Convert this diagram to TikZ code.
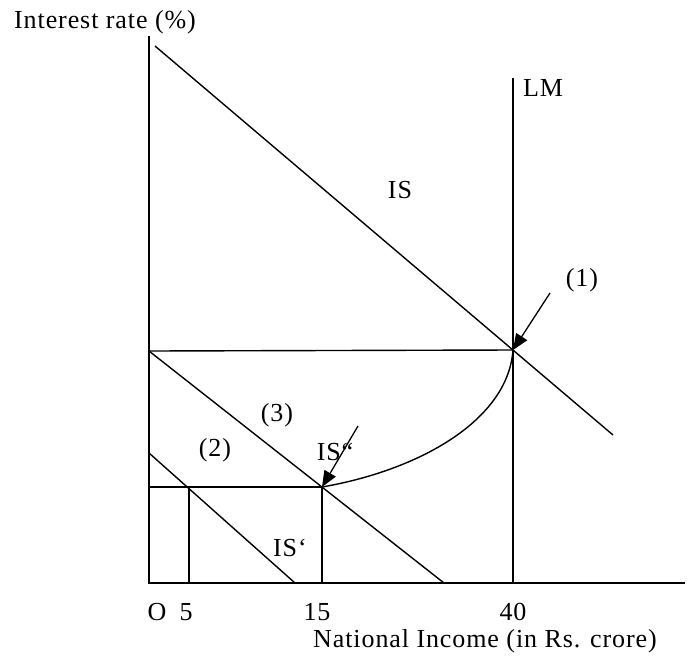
\documentclass[tikz,border=0pt]{standalone}
\usepackage{fontspec}
\setmainfont[LetterSpace=3.5]{Liberation Serif}
\usetikzlibrary{arrows.meta}
\begin{document}
\begin{tikzpicture}[x=1pt,y=-1pt,
  ln/.style={line width=1.4pt,black},
  arr/.style={line width=1.3pt,-{Triangle[length=16pt,width=13pt]}},
  lbl/.style={font=\fontsize{26}{29}\selectfont,inner sep=0pt}]
\useasboundingbox (0,0) rectangle (688,662);
% coordinates
\coordinate (ytop) at (149,36);
\coordinate (O) at (149,583);
\coordinate (xend) at (685,583);
\coordinate (isA) at (155,46);
\coordinate (isB) at (613,435);
\coordinate (lmTop) at (513,78);
\coordinate (lmBot) at (513,583);
\coordinate (E1) at (513,350);
\coordinate (Y1) at (149,351);
\coordinate (E3) at (322,487);
\coordinate (Y3) at (149,487);
\coordinate (isppEnd) at (444,583);
\coordinate (ispA) at (149,453);
\coordinate (ispEnd) at (295,583);
\coordinate (v5top) at (189,487);
\coordinate (v5bot) at (189,583);
\coordinate (v15bot) at (322,583);
\coordinate (a1s) at (550,293);
\coordinate (a2s) at (358,426);
% axes
\draw[ln] (ytop) -- (O) -- (xend);
% IS, LM
\draw[ln] (isA) -- (isB);
\draw[ln] (lmTop) -- (lmBot);
% horizontals
\draw[ln] (Y1) -- (E1);
\draw[ln] (Y3) -- (E3);
% IS'' and IS'
\draw[ln] (Y1) -- (isppEnd);
\draw[ln] (ispA) -- (ispEnd);
% verticals
\draw[ln] (v5top) -- (v5bot);
\draw[ln] (E3) -- (v15bot);
% curve
\draw[ln] (E1) .. controls (508,420) and (420,470) .. (E3);
% arrows
\draw[arr] (a1s) -- (E1);
\draw[arr] (a2s) -- (E3);
% labels
\node[lbl] (tIR) at (105,22) {Interest rate (\%)};
\node[lbl] (tLM) at (543,88) {LM};
\node[lbl] (tIS) at (400,190) {IS};
\node[lbl] (t1) at (582,280) {(1)};
\node[lbl] (t3) at (277,415) {(3)};
\node[lbl] (t2) at (215,450) {(2)};
\node[lbl] (tISpp) at (335,452) {IS“};
\node[lbl] (tISp) at (290,548) {IS‘};
\node[lbl] (tO) at (157,612) {O};
\node[lbl] (t5) at (186,612) {5};
\node[lbl] (t15) at (317,612) {15};
\node[lbl] (t40) at (513,612) {40};
\node[lbl,anchor=west] (tNI) at (313,641) {National Income (in Rs. crore)};
\end{tikzpicture}
\end{document}
